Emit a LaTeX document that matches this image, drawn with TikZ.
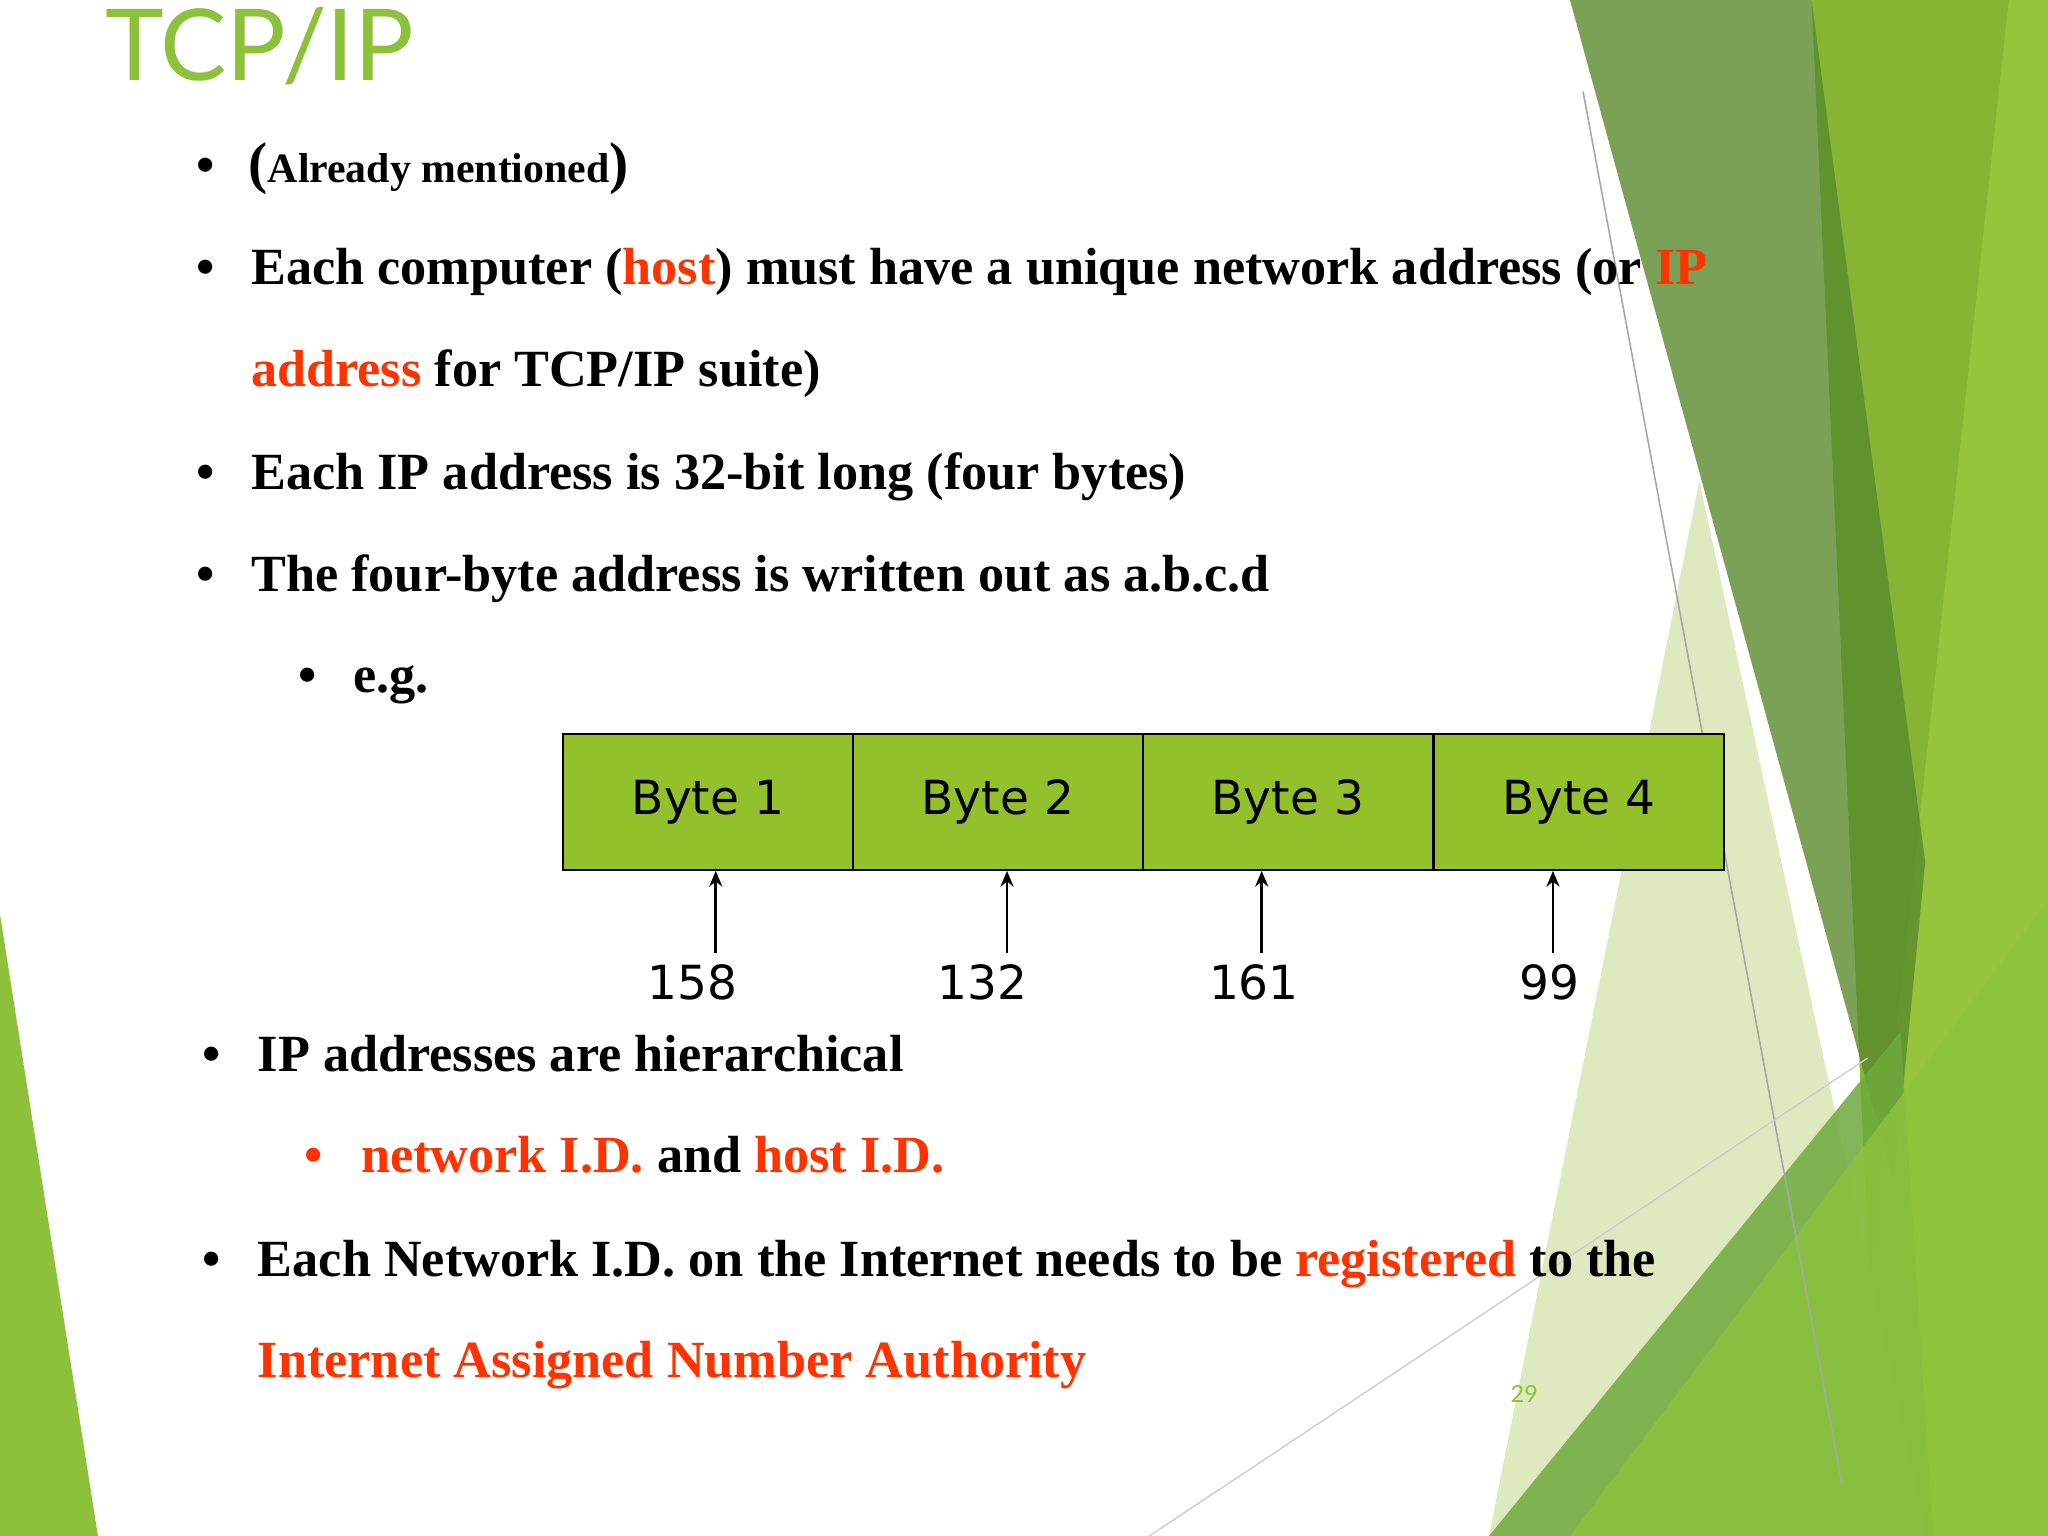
\documentclass[tikz,border=0pt]{standalone}
\usepackage{fontspec}
\setmainfont{Liberation Serif}
\newfontfamily\bytefont{DejaVu Sans}
\newfontfamily\titlefont{Lato}
\usetikzlibrary{arrows.meta}
\definecolor{tgreen}{HTML}{8DC13A}
\definecolor{boxgreen}{HTML}{92C12C}
\definecolor{hred}{HTML}{FF3300}
\tikzset{
  txt/.style={anchor=base west,inner sep=0pt,font=\fontsize{20}{24}\selectfont\bfseries},
  bul/.style={anchor=base west,inner sep=0pt,font=\fontsize{20}{24}\selectfont\bfseries},
  cell/.style={draw=black,fill=boxgreen,line width=0.8pt,minimum width=111pt,minimum height=52pt,inner sep=0pt,font=\bytefont\fontsize{18}{20}\selectfont},
  num/.style={anchor=base,inner sep=0pt,font=\bytefont\fontsize{18}{20}\selectfont},
  arr/.style={-{Stealth[length=6pt,width=5pt]},line width=1pt}
}
\begin{document}
\begin{tikzpicture}[x=0.5pt,y=-0.5pt]
\useasboundingbox (0,0) rectangle (1568,1176);
\fill[white] (0,0) rectangle (1568,1176);
% background decoration
\fill[tgreen] (0,700) -- (75,1176) -- (0,1176) -- cycle;
\fill[fill={rgb,255:red,134;green,181;blue,52}] (1387,0) -- (1568,0) -- (1568,1176) -- (1440,1176) -- cycle;
\fill[fill={rgb,255:red,150;green,196;blue,60}] (1538,0) -- (1568,0) -- (1568,1176) -- (1410,1176) -- cycle;
\fill[fill={rgb,255:red,223;green,233;blue,192}] (1301,368) -- (1475,1176) -- (1140,1176) -- cycle;
\fill[fill={rgb,255:red,90;green,138;blue,45},opacity=0.8] (1202,0) -- (1387,0) -- (1474,660) -- (1450,905) -- cycle;
\fill[fill={rgb,255:red,110;green,170;blue,60},opacity=0.85] (1140,1176) -- (1455,790) -- (1480,1176) -- cycle;
\fill[fill={rgb,255:red,140;green,195;blue,60},opacity=0.8] (1202,1176) -- (1568,690) -- (1568,1176) -- cycle;
\draw[gray!70,line width=0.6pt] (1212,70) -- (1410,1135);
\draw[gray!40,line width=0.5pt] (880,1176) -- (1430,810);
% title
\node[anchor=base west,inner sep=0pt,text=tgreen,font=\titlefont\fontsize{38}{40}\selectfont] (title) at (80,62) {TCP/IP};
% bullets
\node[bul] (b1) at (150,140) {•};
\node[txt] (t1) at (190,140) {\fontsize{22}{24}\selectfont(\fontsize{16}{20}\selectfont Already mentioned\fontsize{22}{24}\selectfont)};
\node[bul] (b2) at (150,218) {•};
\node[txt] (t2) at (192,218) {Each computer (\textcolor{hred}{host}) must have a unique network address (or \textcolor{hred}{IP}};
\node[txt] (t2b) at (192,296) {\textcolor{hred}{address} for TCP/IP suite)};
\node[bul] (b3) at (150,375) {•};
\node[txt] (t3) at (192,375) {Each IP address is 32-bit long (four bytes)};
\node[bul] (b4) at (150,453) {•};
\node[txt] (t4) at (192,453) {The four-byte address is written out as a.b.c.d};
\node[bul] (b5) at (228,530) {•};
\node[txt] (t5) at (270,530) {e.g.};
% bytes
\node[cell] (c1) at (542,614) {Byte 1};
\node[cell] (c2) at (764,614) {Byte 2};
\node[cell] (c3) at (986,614) {Byte 3};
\node[cell] (c4) at (1209,614) {Byte 4};
\coordinate (a1) at (548,730);
\coordinate (a2) at (771,730);
\coordinate (a3) at (966,730);
\coordinate (a4) at (1189,730);
\draw[arr] (a1) -- (a1 |- c1.south);
\draw[arr] (a2) -- (a2 |- c2.south);
\draw[arr] (a3) -- (a3 |- c3.south);
\draw[arr] (a4) -- (a4 |- c4.south);
\node[num] (n1) at (530,765) {158};
\node[num] (n2) at (752,765) {132};
\node[num] (n3) at (960,765) {161};
\node[num] (n4) at (1186,765) {99};
\node[bul] (b6) at (155,820) {•};
\node[txt] (t6) at (197,820) {IP addresses are hierarchical};
\node[bul,text=hred] (b7) at (233,898) {•};
\node[txt] (t7) at (276,898) {\textcolor{hred}{network I.D.} and \textcolor{hred}{host I.D.}};
\node[bul] (b8) at (155,977) {•};
\node[txt] (t8) at (197,977) {Each Network I.D. on the Internet needs to be \textcolor{hred}{registered} to the};
\node[txt,text=hred] (t8b) at (197,1055) {Internet Assigned Number Authority};
\node[anchor=base,inner sep=0pt,text=tgreen,font=\titlefont\fontsize{9}{10}\selectfont] (pg) at (1167,1074) {29};
\end{tikzpicture}
\end{document}
